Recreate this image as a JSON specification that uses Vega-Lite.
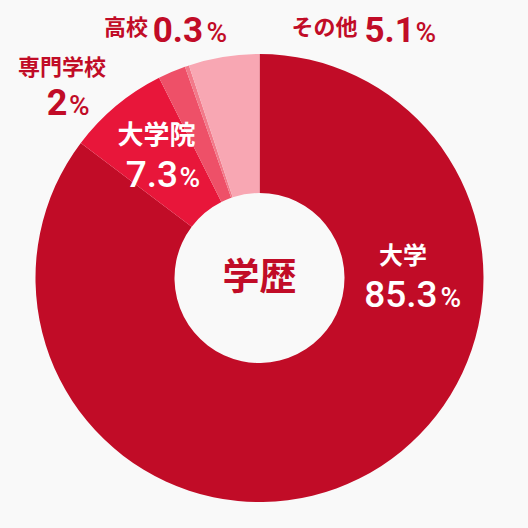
{
  "$schema": "https://vega.github.io/schema/vega-lite/v6.json",
  "autosize": "none",
  "width": 448,
  "height": 448,
  "padding": {"left": 35.5, "top": 54, "right": 44.5, "bottom": 26},
  "background": "#f9f9f9",
  "config": {"view": {"stroke": null}},
  "data": {"values": [
    {"c": "大学", "v": 85.3, "n": 1},
    {"c": "大学院", "v": 7.3, "n": 2},
    {"c": "専門学校", "v": 2, "n": 3},
    {"c": "高校", "v": 0.3, "n": 4},
    {"c": "その他", "v": 5.1, "n": 5}
  ]},
  "layer": [
    {
      "mark": {"type": "arc", "outerRadius": 224, "innerRadius": 85},
      "encoding": {
        "theta": {"field": "v", "type": "quantitative", "stack": true},
        "order": {"field": "n", "type": "quantitative"},
        "color": {"field": "c", "type": "nominal", "legend": null,
          "scale": {"domain": ["大学", "大学院", "専門学校", "高校", "その他"],
                    "range": ["#c10c27", "#e8163a", "#ee5068", "#f27a8a", "#f8a7b3"]}}
      }
    },
    {
      "data": {"values": [{"t": "学歴"}]},
      "mark": {"type": "text", "font": "Noto Sans CJK JP", "fontWeight": "bold", "fontSize": 37, "color": "#c10c27", "baseline": "middle", "align": "center", "dy": 1},
      "encoding": {"text": {"field": "t"}}
    },
    {
      "transform": [{"filter": "datum.c === '大学'"}],
      "mark": {"type": "text", "font": "Noto Sans CJK JP", "fontWeight": "bold", "fontSize": 24, "color": "#ffffff", "baseline": "middle", "align": "center", "dx": 143.5, "dy": -21},
      "encoding": {"text": {"field": "c"}}
    },
    {
      "transform": [{"filter": "datum.c === '大学'"}],
      "mark": {"type": "text", "font": "Roboto", "fontWeight": 500, "fontSize": 37, "color": "#ffffff", "baseline": "alphabetic", "align": "right", "dx": 178, "dy": 29},
      "encoding": {"text": {"field": "v", "type": "nominal"}}
    },
    {
      "transform": [{"filter": "datum.c === '大学'"}],
      "mark": {"type": "text", "text": "%", "font": "Roboto", "fontWeight": 500, "fontSize": 28, "color": "#ffffff", "baseline": "alphabetic", "align": "left", "dx": 181, "dy": 29},
      "encoding": {}
    },
    {
      "transform": [{"filter": "datum.c === '大学院'"}],
      "mark": {"type": "text", "font": "Noto Sans CJK JP", "fontWeight": "bold", "fontSize": 26, "color": "#ffffff", "baseline": "middle", "align": "center", "dx": -103, "dy": -142.5},
      "encoding": {"text": {"field": "c"}}
    },
    {
      "transform": [{"filter": "datum.c === '大学院'"}],
      "mark": {"type": "text", "font": "Roboto", "fontWeight": 500, "fontSize": 37, "color": "#ffffff", "baseline": "alphabetic", "align": "right", "dx": -81.5, "dy": -91},
      "encoding": {"text": {"field": "v", "type": "nominal"}}
    },
    {
      "transform": [{"filter": "datum.c === '大学院'"}],
      "mark": {"type": "text", "text": "%", "font": "Roboto", "fontWeight": 500, "fontSize": 28, "color": "#ffffff", "baseline": "alphabetic", "align": "left", "dx": -80, "dy": -91},
      "encoding": {}
    },
    {
      "transform": [{"filter": "datum.c === '専門学校'"}],
      "mark": {"type": "text", "font": "Noto Sans CJK JP", "fontWeight": "bold", "fontSize": 22, "color": "#c10c27", "baseline": "middle", "align": "center", "dx": -197.5, "dy": -210.5},
      "encoding": {"text": {"field": "c"}}
    },
    {
      "transform": [{"filter": "datum.c === '専門学校'"}],
      "mark": {"type": "text", "font": "Roboto", "fontWeight": "bold", "fontSize": 36, "color": "#c10c27", "baseline": "alphabetic", "align": "right", "dx": -192, "dy": -163},
      "encoding": {"text": {"field": "v", "type": "nominal"}}
    },
    {
      "transform": [{"filter": "datum.c === '専門学校'"}],
      "mark": {"type": "text", "text": "%", "font": "Roboto", "fontWeight": 500, "fontSize": 28, "color": "#c10c27", "baseline": "alphabetic", "align": "left", "dx": -190.5, "dy": -163},
      "encoding": {}
    },
    {
      "transform": [{"filter": "datum.c === '高校'"}],
      "mark": {"type": "text", "font": "Noto Sans CJK JP", "fontWeight": "bold", "fontSize": 22, "color": "#c10c27", "baseline": "middle", "align": "center", "dx": -133.5, "dy": -250},
      "encoding": {"text": {"field": "c"}}
    },
    {
      "transform": [{"filter": "datum.c === '高校'"}],
      "mark": {"type": "text", "font": "Roboto", "fontWeight": "bold", "fontSize": 35, "color": "#c10c27", "baseline": "alphabetic", "align": "right", "dx": -56.5, "dy": -236},
      "encoding": {"text": {"field": "v", "type": "nominal"}}
    },
    {
      "transform": [{"filter": "datum.c === '高校'"}],
      "mark": {"type": "text", "text": "%", "font": "Roboto", "fontWeight": 500, "fontSize": 28, "color": "#c10c27", "baseline": "alphabetic", "align": "left", "dx": -53, "dy": -236},
      "encoding": {}
    },
    {
      "transform": [{"filter": "datum.c === 'その他'"}],
      "mark": {"type": "text", "font": "Noto Sans CJK JP", "fontWeight": "bold", "fontSize": 22, "color": "#c10c27", "baseline": "middle", "align": "center", "dx": 65, "dy": -250},
      "encoding": {"text": {"field": "c"}}
    },
    {
      "transform": [{"filter": "datum.c === 'その他'"}],
      "mark": {"type": "text", "font": "Roboto", "fontWeight": "bold", "fontSize": 35, "color": "#c10c27", "baseline": "alphabetic", "align": "left", "dx": 105, "dy": -236},
      "encoding": {"text": {"field": "v", "type": "nominal"}}
    },
    {
      "transform": [{"filter": "datum.c === 'その他'"}],
      "mark": {"type": "text", "text": "%", "font": "Roboto", "fontWeight": 500, "fontSize": 28, "color": "#c10c27", "baseline": "alphabetic", "align": "left", "dx": 156, "dy": -236},
      "encoding": {}
    }
  ]
}
